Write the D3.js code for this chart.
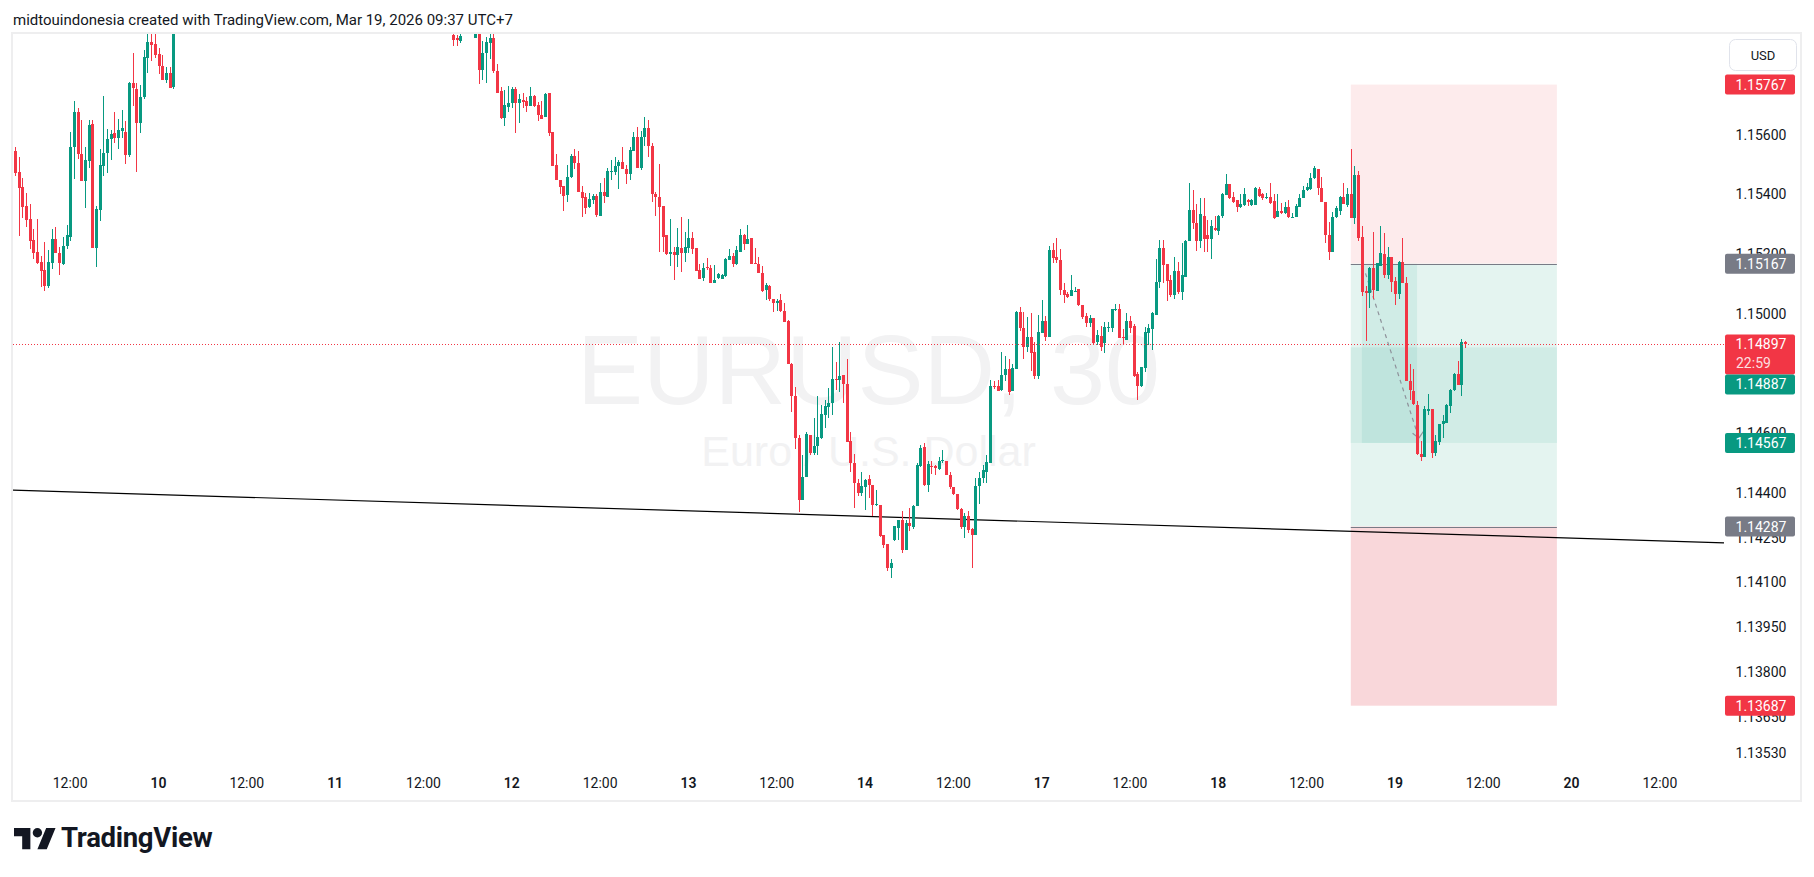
<!DOCTYPE html>
<html><head><meta charset="utf-8">
<script src="https://cdn.jsdelivr.net/npm/d3@7"></script>
<style>
html,body{margin:0;padding:0;background:#fff;overflow:hidden;}
svg{display:block;}
</style></head><body>
<svg id="chart" width="1814" height="877"></svg>
<script>
// ---------------- DATA (EURUSD, 30 min) ----------------
// candle index 0 = Mar 10 00:00 (UTC+7); null = candle above the visible price range
const START_INDEX = -39;
const opens = [
1.15543,1.15473,1.15423,1.15360,1.15316,1.15246,1.15206,1.15174,1.15146,1.15094,
1.15170,1.15249,1.15204,1.15166,1.15225,1.15257,1.15557,1.15674,1.15536,1.15444,
1.15510,1.15636,1.15220,1.15346,1.15494,1.15537,1.15584,1.15606,1.15587,1.15610,
1.15607,1.15530,1.15774,1.15753,1.15640,1.15726,1.15857,1.15909,1.15903,1.15869,
1.15829,1.15782,1.15806,1.15760,
null,null,null,null,null,null,null,null,null,null,null,null,null,null,null,
null,null,null,null,null,null,null,null,null,null,null,null,null,null,null,
null,null,null,null,null,null,null,null,null,null,null,null,null,null,null,
null,null,null,null,null,null,null,null,null,null,null,null,null,null,null,
null,null,null,null,null,null,null,null,null,null,null,null,null,null,null,
1.15933,1.15924,1.15913,null,null,null,
1.15924,1.15950,1.15817,1.15873,1.15906,1.15924,1.15813,1.15746,1.15656,1.15693,
1.15704,1.15753,1.15706,1.15715,1.15713,1.15694,1.15729,1.15699,1.15666,1.15659,
1.15739,1.15609,1.15499,1.15449,1.15426,1.15397,1.15456,1.15529,1.15506,1.15409,
1.15389,1.15356,1.15379,1.15393,1.15326,1.15406,1.15389,1.15476,1.15473,1.15493,
1.15509,1.15486,1.15469,1.15546,1.15593,1.15489,1.15590,1.15620,1.15560,1.15401,
1.15392,1.15362,1.15262,1.15201,1.15206,1.15195,1.15219,1.15203,1.15219,1.15254,
1.15219,1.15146,1.15118,1.15155,1.15153,1.15103,1.15119,1.15117,1.15126,1.15178,
1.15192,1.15167,1.15208,1.15265,1.15232,1.15253,1.15169,1.15167,1.15136,1.15078,
1.15093,1.15048,1.15034,1.15045,1.15010,1.14975,1.14831,1.14723,1.14582,1.14376,
1.14453,1.14592,1.14534,1.14556,1.14584,1.14662,1.14686,1.14701,1.14782,1.14777,
1.14793,1.14763,1.14573,1.14501,1.14434,1.14399,1.14421,1.14446,1.14427,1.14359,
1.14360,1.14257,1.14227,1.14147,1.14241,1.14282,1.14310,1.14210,1.14299,1.14284,
1.14357,1.14490,1.14552,1.14427,1.14490,1.14490,1.14481,1.14507,1.14508,1.14460,
1.14421,1.14397,1.14346,1.14284,1.14321,1.14279,1.14260,1.14423,1.14450,1.14471,
1.14501,1.14758,1.14758,1.14743,1.14796,1.14813,1.14740,1.14816,1.15004,1.14952,
1.14888,1.14923,1.14870,1.14790,1.14936,1.14975,1.14923,1.15212,1.15189,1.15181,
1.15078,1.15065,1.15059,1.15073,1.15082,1.15028,1.14993,1.14967,1.14987,1.14905,
1.14925,1.14903,1.14953,1.14953,1.15012,1.15014,1.14922,1.14912,1.14975,1.14959,
1.14798,1.14756,1.14818,1.14936,1.14948,1.14996,1.15105,1.15221,1.15165,1.15112,
1.15062,1.15142,1.15073,1.15123,1.15243,1.15348,1.15304,1.15243,1.15328,1.15265,
1.15249,1.15287,1.15276,1.15328,1.15396,1.15433,1.15392,1.15381,1.15356,1.15364,
1.15381,1.15365,1.15365,1.15419,1.15401,1.15388,1.15392,1.15378,1.15323,1.15345,
1.15337,1.15358,1.15323,1.15325,1.15358,1.15386,1.15414,1.15417,1.15454,1.15484,
1.15421,1.15373,1.15265,1.15206,1.15323,1.15345,1.15390,1.15363,1.15399,1.15320,
1.15465,1.15256,1.15076,1.15070,1.15153,1.15076,1.15159,1.15200,1.15129,1.15189,
1.15109,1.15066,1.15172,1.15101,1.14775,1.14742,1.14695,1.14529,1.14520,1.14673,
1.14679,1.14532,1.14570,1.14630,1.14634,1.14690,1.14743,1.14799,1.14762,1.14904
];
const highs = [
1.15559,1.15526,1.15453,1.15403,1.15367,1.15283,1.15316,1.15193,1.15239,1.15213,
1.15283,1.15289,1.15223,1.15257,1.15296,1.15607,1.15713,1.15689,1.15650,1.15559,
1.15649,1.15649,1.15359,1.15553,1.15730,1.15617,1.15616,1.15676,1.15652,1.15683,
1.15646,1.15776,1.15873,1.15774,1.15764,1.15884,1.15960,1.15955,1.15950,1.15890,
1.15866,1.15826,1.15826,1.15990,
null,null,null,null,null,null,null,null,null,null,null,null,null,null,null,
null,null,null,null,null,null,null,null,null,null,null,null,null,null,null,
null,null,null,null,null,null,null,null,null,null,null,null,null,null,null,
null,null,null,null,null,null,null,null,null,null,null,null,null,null,null,
null,null,null,null,null,null,null,null,null,null,null,null,null,null,null,
1.15945,1.15933,1.15950,null,null,null,
1.15955,1.15965,1.15913,1.15926,1.15940,1.15940,1.15836,1.15759,1.15748,1.15763,
1.15759,1.15759,1.15736,1.15739,1.15727,1.15759,1.15733,1.15710,1.15713,1.15740,
1.15739,1.15609,1.15536,1.15449,1.15429,1.15499,1.15536,1.15553,1.15543,1.15426,
1.15403,1.15403,1.15399,1.15399,1.15436,1.15453,1.15489,1.15513,1.15526,1.15513,
1.15559,1.15499,1.15559,1.15609,1.15626,1.15610,1.15660,1.15650,1.15570,1.15408,
1.15501,1.15362,1.15262,1.15317,1.15223,1.15287,1.15325,1.15273,1.15317,1.15273,
1.15219,1.15167,1.15171,1.15186,1.15164,1.15162,1.15137,1.15134,1.15187,1.15216,
1.15203,1.15228,1.15284,1.15267,1.15298,1.15253,1.15221,1.15189,1.15158,1.15103,
1.15095,1.15048,1.15048,1.15067,1.15037,1.14978,1.14834,1.14753,1.14595,1.14525,
1.14603,1.14592,1.14651,1.14725,1.14693,1.14712,1.14751,1.14888,1.14838,1.14904,
1.14793,1.14849,1.14604,1.14529,1.14446,1.14471,1.14446,1.14460,1.14427,1.14410,
1.14360,1.14257,1.14227,1.14177,1.14290,1.14310,1.14340,1.14310,1.14349,1.14360,
1.14499,1.14560,1.14568,1.14508,1.14508,1.14493,1.14519,1.14543,1.14508,1.14468,
1.14421,1.14397,1.14349,1.14332,1.14338,1.14281,1.14449,1.14468,1.14493,1.14527,
1.14779,1.14773,1.14779,1.14873,1.14857,1.14848,1.14832,1.15010,1.15023,1.15004,
1.14990,1.15003,1.14904,1.14995,1.15045,1.14993,1.15225,1.15237,1.15252,1.15215,
1.15104,1.15073,1.15131,1.15088,1.15082,1.15028,1.15001,1.14995,1.14987,1.14945,
1.14958,1.14972,1.14972,1.15015,1.15031,1.15031,1.14947,1.15001,1.14993,1.14965,
1.14806,1.14822,1.14956,1.14965,1.15005,1.15184,1.15247,1.15245,1.15165,1.15131,
1.15188,1.15173,1.15236,1.15247,1.15436,1.15415,1.15367,1.15386,1.15388,1.15314,
1.15314,1.15328,1.15331,1.15404,1.15468,1.15433,1.15409,1.15381,1.15401,1.15422,
1.15384,1.15384,1.15423,1.15425,1.15404,1.15404,1.15438,1.15401,1.15401,1.15372,
1.15373,1.15381,1.15337,1.15367,1.15401,1.15426,1.15438,1.15472,1.15493,1.15486,
1.15456,1.15373,1.15306,1.15342,1.15360,1.15395,1.15439,1.15421,1.15552,1.15495,
1.15479,1.15292,1.15092,1.15156,1.15274,1.15170,1.15295,1.15269,1.15222,1.15189,
1.15122,1.15176,1.15253,1.15121,1.14832,1.14815,1.14709,1.14573,1.14692,1.14732,
1.14679,1.14592,1.14632,1.14662,1.14698,1.14748,1.14801,1.14842,1.14914,1.14909
];
const lows = [
1.15460,1.15260,1.15320,1.15290,1.15217,1.15184,1.15165,1.15090,1.15077,1.15087,
1.15148,1.15202,1.15129,1.15163,1.15215,1.15244,1.15450,1.15517,1.15444,1.15354,
1.15487,1.15220,1.15157,1.15310,1.15460,1.15470,1.15513,1.15573,1.15550,1.15587,
1.15500,1.15524,1.15697,1.15474,1.15605,1.15719,1.15806,1.15846,1.15857,1.15804,
1.15782,1.15773,1.15757,1.15751,
null,null,null,null,null,null,null,null,null,null,null,null,null,null,null,
null,null,null,null,null,null,null,null,null,null,null,null,null,null,null,
null,null,null,null,null,null,null,null,null,null,null,null,null,null,null,
null,null,null,null,null,null,null,null,null,null,null,null,null,null,null,
null,null,null,null,null,null,null,null,null,null,null,null,null,null,null,
1.15897,1.15897,1.15907,null,null,null,
1.15922,1.15770,1.15784,1.15774,1.15853,1.15806,1.15740,1.15653,1.15629,1.15676,
1.15687,1.15606,1.15639,1.15689,1.15676,1.15694,1.15693,1.15646,1.15653,1.15659,
1.15596,1.15496,1.15449,1.15400,1.15343,1.15373,1.15453,1.15486,1.15406,1.15323,
1.15333,1.15353,1.15366,1.15323,1.15326,1.15369,1.15389,1.15446,1.15463,1.15416,
1.15483,1.15433,1.15446,1.15546,1.15489,1.15480,1.15560,1.15525,1.15373,1.15327,
1.15206,1.15206,1.15198,1.15158,1.15114,1.15156,1.15138,1.15173,1.15203,1.15201,
1.15143,1.15117,1.15108,1.15145,1.15103,1.15103,1.15117,1.15115,1.15123,1.15178,
1.15156,1.15162,1.15206,1.15212,1.15232,1.15167,1.15165,1.15136,1.15073,1.15047,
1.15043,1.15004,1.15008,1.15004,1.14971,1.14831,1.14669,1.14547,1.14336,1.14376,
1.14453,1.14526,1.14528,1.14526,1.14581,1.14617,1.14649,1.14660,1.14743,1.14738,
1.14702,1.14571,1.14471,1.14349,1.14388,1.14390,1.14343,1.14382,1.14321,1.14357,
1.14252,1.14216,1.14138,1.14116,1.14238,1.14243,1.14197,1.14208,1.14271,1.14279,
1.14357,1.14488,1.14423,1.14401,1.14463,1.14460,1.14477,1.14499,1.14458,1.14412,
1.14393,1.14343,1.14279,1.14248,1.14266,1.14149,1.14260,1.14363,1.14432,1.14434,
1.14499,1.14749,1.14741,1.14740,1.14774,1.14727,1.14740,1.14816,1.14943,1.14849,
1.14871,1.14808,1.14782,1.14780,1.14936,1.14909,1.14923,1.15171,1.15171,1.15062,
1.15036,1.15051,1.15059,1.15073,1.15026,1.14983,1.14954,1.14956,1.14898,1.14895,
1.14875,1.14869,1.14939,1.14939,1.15009,1.14917,1.14898,1.14912,1.14934,1.14787,
1.14712,1.14754,1.14803,1.14895,1.14878,1.14996,1.15086,1.15103,1.15043,1.15055,
1.15049,1.15065,1.15045,1.15123,1.15243,1.15282,1.15209,1.15219,1.15206,1.15206,
1.15183,1.15276,1.15265,1.15319,1.15396,1.15384,1.15371,1.15339,1.15354,1.15362,
1.15359,1.15362,1.15365,1.15392,1.15382,1.15384,1.15367,1.15317,1.15323,1.15334,
1.15334,1.15321,1.15323,1.15325,1.15358,1.15386,1.15412,1.15414,1.15451,1.15397,
1.15373,1.15236,1.15181,1.15206,1.15320,1.15329,1.15368,1.15356,1.15320,1.15299,
1.15243,1.15059,1.14910,1.15020,1.15048,1.15076,1.15159,1.15120,1.15115,1.15073,
1.15029,1.15049,1.15101,1.14773,1.14710,1.14695,1.14525,1.14506,1.14520,1.14659,
1.14516,1.14523,1.14559,1.14583,1.14634,1.14668,1.14740,1.14762,1.14723,1.14884
];
const closes = [
1.15470,1.15421,1.15357,1.15315,1.15244,1.15204,1.15170,1.15144,1.15094,1.15173,
1.15249,1.15202,1.15168,1.15226,1.15263,1.15557,1.15674,1.15533,1.15444,1.15513,
1.15633,1.15220,1.15349,1.15497,1.15539,1.15586,1.15603,1.15589,1.15614,1.15620,
1.15530,1.15774,1.15754,1.15640,1.15726,1.15859,1.15909,1.15900,1.15867,1.15828,
1.15782,1.15806,1.15757,1.15960,
null,null,null,null,null,null,null,null,null,null,null,null,null,null,null,
null,null,null,null,null,null,null,null,null,null,null,null,null,null,null,
null,null,null,null,null,null,null,null,null,null,null,null,null,null,null,
null,null,null,null,null,null,null,null,null,null,null,null,null,null,null,
null,null,null,null,null,null,null,null,null,null,null,null,null,null,null,
1.15917,1.15915,1.15930,null,null,null,
1.15940,1.15817,1.15873,1.15909,1.15924,1.15813,1.15740,1.15656,1.15699,1.15706,
1.15753,1.15706,1.15719,1.15710,1.15694,1.15729,1.15696,1.15664,1.15653,1.15737,
1.15606,1.15496,1.15449,1.15424,1.15394,1.15456,1.15529,1.15503,1.15406,1.15387,
1.15353,1.15383,1.15393,1.15329,1.15409,1.15393,1.15476,1.15479,1.15496,1.15509,
1.15483,1.15469,1.15549,1.15593,1.15489,1.15590,1.15620,1.15560,1.15401,1.15389,
1.15358,1.15258,1.15201,1.15206,1.15198,1.15223,1.15203,1.15223,1.15254,1.15217,
1.15143,1.15117,1.15154,1.15153,1.15103,1.15112,1.15132,1.15128,1.15182,1.15192,
1.15167,1.15212,1.15265,1.15232,1.15251,1.15167,1.15165,1.15136,1.15075,1.15095,
1.15048,1.15034,1.15042,1.15008,1.14973,1.14831,1.14723,1.14582,1.14376,1.14453,
1.14597,1.14534,1.14558,1.14587,1.14665,1.14689,1.14701,1.14780,1.14777,1.14790,
1.14766,1.14571,1.14499,1.14432,1.14399,1.14423,1.14443,1.14427,1.14360,1.14362,
1.14254,1.14224,1.14147,1.14166,1.14288,1.14308,1.14210,1.14299,1.14288,1.14357,
1.14493,1.14549,1.14427,1.14496,1.14486,1.14482,1.14507,1.14510,1.14458,1.14419,
1.14396,1.14347,1.14284,1.14321,1.14277,1.14260,1.14423,1.14450,1.14477,1.14503,
1.14757,1.14754,1.14741,1.14796,1.14813,1.14738,1.14818,1.15004,1.14951,1.14888,
1.14923,1.14868,1.14790,1.14938,1.14975,1.14923,1.15212,1.15186,1.15178,1.15078,
1.15062,1.15056,1.15078,1.15077,1.15028,1.14989,1.14967,1.14986,1.14901,1.14928,
1.14889,1.14956,1.14956,1.15014,1.15015,1.14919,1.14919,1.14975,1.14953,1.14792,
1.14756,1.14822,1.14937,1.14951,1.15001,1.15105,1.15221,1.15162,1.15108,1.15062,
1.15142,1.15073,1.15128,1.15243,1.15348,1.15303,1.15243,1.15332,1.15249,1.15249,
1.15292,1.15281,1.15328,1.15399,1.15433,1.15386,1.15375,1.15356,1.15366,1.15399,
1.15375,1.15381,1.15422,1.15395,1.15386,1.15392,1.15371,1.15321,1.15345,1.15336,
1.15358,1.15323,1.15325,1.15362,1.15386,1.15415,1.15423,1.15454,1.15489,1.15421,
1.15373,1.15262,1.15206,1.15325,1.15354,1.15390,1.15368,1.15399,1.15320,1.15465,
1.15253,1.15073,1.15070,1.15153,1.15079,1.15170,1.15203,1.15129,1.15189,1.15106,
1.15066,1.15173,1.15101,1.14773,1.14743,1.14698,1.14529,1.14520,1.14679,1.14682,
1.14532,1.14573,1.14632,1.14640,1.14695,1.14745,1.14799,1.14762,1.14904,1.14897
];

// price-scale tick labels as shown (some are partly covered by the tag labels)
const priceTicks = [1.15600,1.15400,1.15200,1.15000,1.14600,1.14400,1.14250,1.14100,1.13950,1.13800,1.13650,1.13530];
const timeTickIndex = [-24,0,24,48,72,96,120,144,168,192,216,240,264,288,312,336,360,384,408];
const timeTickLabels = ["12:00","10","12:00","11","12:00","12","12:00","13","12:00","14","12:00","17","12:00","18","12:00","19","12:00","20","12:00"];

// trend line anchors (candle index, price)
const trendIndex = [-39, 424];
const trendPrice = [1.14409, 1.14233];

// position tool
const positionIndex = [324, 380];
const positionActiveIndex = [327, 342];
const zoneFrom = [1.15767, 1.15167, 1.14287, 1.14887];
const zoneTo   = [1.15167, 1.14287, 1.13687, 1.14567];
const zoneKind = ["stop", "target", "stop2", "band"];
const positionLines = [1.15167, 1.14287];
const activeFrom = 1.15167, activeTo = 1.14567;
const pathIndex = [328, 342.5];
const pathPrice = [1.15135, 1.14583];

// price-scale labels
const axisLabelValues = [1.15767, 1.15167, 1.14897, 1.14887, 1.14567, 1.14287, 1.13687];
const axisLabelKinds  = ["red", "gray", "last", "green", "green", "gray", "red"];
const lastPrice = 1.14897;
const countdown = "22:59";

const headerText = "midtouindonesia created with TradingView.com, Mar 19, 2026 09:37 UTC+7";
const symbolText = "EURUSD, 30";
const descText = "Euro / U.S. Dollar";

// ---------------- DRAW ----------------
const UP = "#089981", DOWN = "#f23645", GRAY = "#787b86", TXT = "#131722";
const FONT = "Roboto, 'Liberation Sans', Arial, sans-serif";
const pane = {left: 13, top: 34, right: 1724, bottom: 768};

const svg = d3.select("#chart");
const x = d3.scaleLinear().domain([0, 384]).range([158.5, 1571.6]);
const y = d3.scaleLinear().domain([1.15767, 1.13687]).range([84.6, 705.7]);

svg.append("rect").attr("width", 1814).attr("height", 877).attr("fill", "#fff");

svg.append("defs").append("clipPath").attr("id", "paneClip")
  .append("rect").attr("x", pane.left).attr("y", pane.top)
  .attr("width", pane.right - pane.left).attr("height", pane.bottom - pane.top);

const g = svg.append("g").attr("clip-path", "url(#paneClip)");

// watermark
const cx = (577 + 1160) / 2;
g.append("text").attr("x", cx).attr("y", 404).attr("text-anchor", "middle")
  .attr("font-family", "'Liberation Sans', Arial, sans-serif").attr("font-size", 99)
  .attr("fill", "#f2f2f3").text(symbolText);
g.append("text").attr("x", cx).attr("y", 466).attr("text-anchor", "middle")
  .attr("font-family", "'Liberation Sans', Arial, sans-serif").attr("font-size", 43)
  .attr("fill", "#f2f2f3").text(descText);

// position zones
const zoneFill = {stop: "#fdebec", target: "#e4f4f0", stop2: "#f9d7da", band: "#d1ece6"};
const px0 = x(positionIndex[0]), px1 = x(positionIndex[1]);
g.selectAll("rect.zone").data(zoneFrom.map((f, i) => ({f, t: zoneTo[i], k: zoneKind[i]})))
  .join("rect").attr("class", "zone")
  .attr("x", px0).attr("width", px1 - px0)
  .attr("y", d => y(d.f)).attr("height", d => y(d.t) - y(d.f))
  .attr("fill", d => zoneFill[d.k]);
g.append("rect").attr("x", x(positionActiveIndex[0])).attr("width", x(positionActiveIndex[1]) - x(positionActiveIndex[0]))
  .attr("y", y(activeFrom)).attr("height", y(activeTo) - y(activeFrom))
  .attr("fill", "rgba(8,153,129,0.09)");
g.selectAll("line.pline").data(positionLines).join("line").attr("class", "pline")
  .attr("x1", px0).attr("x2", px1).attr("y1", d => Math.round(y(d)) + 0.5).attr("y2", d => Math.round(y(d)) + 0.5)
  .attr("stroke", GRAY).attr("stroke-width", 1);

// dashed path with arrow
const ax1 = x(pathIndex[0]), ay1 = y(pathPrice[0]), ax2 = x(pathIndex[1]), ay2 = y(pathPrice[1]);
g.append("line").attr("x1", ax1).attr("y1", ay1).attr("x2", ax2).attr("y2", ay2)
  .attr("stroke", "#8f929b").attr("stroke-width", 1.2).attr("stroke-dasharray", "4,4");
{
  const ang = Math.atan2(ay1 - ay2, ax1 - ax2);
  [0.9, -0.6].forEach(da => {
    g.append("line").attr("x1", ax2).attr("y1", ay2)
      .attr("x2", ax2 + 8 * Math.cos(ang + da)).attr("y2", ay2 + 8 * Math.sin(ang + da))
      .attr("stroke", "#8f929b").attr("stroke-width", 1.2);
  });
}

// trend line extended to pane edges
{
  const xa = x(trendIndex[0]), ya = y(trendPrice[0]), xb = x(trendIndex[1]), yb = y(trendPrice[1]);
  const s = (yb - ya) / (xb - xa);
  g.append("line").attr("x1", pane.left).attr("y1", ya + s * (pane.left - xa))
    .attr("x2", pane.right).attr("y2", ya + s * (pane.right - xa))
    .attr("stroke", "#000").attr("stroke-width", 1.2);
}

// candles
const candles = [];
for (let k = 0; k < opens.length; k++) {
  if (opens[k] == null) continue;
  candles.push({t: START_INDEX + k, o: opens[k], h: highs[k], l: lows[k], c: closes[k]});
}
const cg = g.append("g").attr("shape-rendering", "crispEdges");
cg.selectAll("rect.wick").data(candles).join("rect").attr("class", "wick")
  .attr("x", d => Math.round(x(d.t)))
  .attr("width", 1)
  .attr("y", d => Math.round(y(d.h)))
  .attr("height", d => Math.max(1, Math.round(y(d.l)) - Math.round(y(d.h))))
  .attr("fill", d => d.c >= d.o ? UP : DOWN);
cg.selectAll("rect.body").data(candles).join("rect").attr("class", "body")
  .attr("x", d => Math.round(x(d.t)) - 1)
  .attr("width", 3)
  .attr("y", d => Math.round(y(Math.max(d.o, d.c))))
  .attr("height", d => Math.max(1, Math.round(y(Math.min(d.o, d.c))) - Math.round(y(Math.max(d.o, d.c)))))
  .attr("fill", d => d.c >= d.o ? UP : DOWN);

// last price dotted line
g.append("line").attr("x1", pane.left).attr("x2", pane.right)
  .attr("y1", Math.round(y(lastPrice)) + 0.5).attr("y2", Math.round(y(lastPrice)) + 0.5)
  .attr("stroke", DOWN).attr("stroke-width", 1).attr("stroke-dasharray", "1,2");

// frame
svg.append("rect").attr("x", 12).attr("y", 33).attr("width", 1789).attr("height", 768)
  .attr("fill", "none").attr("stroke", "#eeeeef").attr("stroke-width", 2);

// price axis ticks
const fmt = d3.format(".5f");
const axisX = 1761;
svg.append("g").selectAll("text").data(priceTicks).join("text")
  .attr("x", axisX).attr("y", d => y(d)).attr("dy", "0.36em")
  .attr("text-anchor", "middle").attr("font-family", FONT).attr("font-size", 14)
  .attr("fill", TXT).text(d => fmt(d));

// USD button
svg.append("rect").attr("x", 1729.5).attr("y", 39.5).attr("width", 67).attr("height", 31).attr("rx", 6)
  .attr("fill", "#fff").attr("stroke", "#e0e3eb");
svg.append("text").attr("x", 1763).attr("y", 55).attr("dy", "0.36em").attr("text-anchor", "middle")
  .attr("font-family", FONT).attr("font-size", 13).attr("fill", TXT).text("USD");

// price labels
const labelBg = {red: DOWN, gray: GRAY, last: DOWN, green: UP};
const lg = svg.append("g");
let lastBottom = -1;
axisLabelValues.forEach((v, i) => {
  const kind = axisLabelKinds[i];
  const h = kind === "last" ? 40 : 20;
  let top = y(v) - 10;
  if (top < lastBottom) top = lastBottom;
  lastBottom = top + h;
  lg.append("rect").attr("x", 1725).attr("y", top).attr("width", 70).attr("height", h).attr("rx", 2)
    .attr("fill", labelBg[kind]);
  lg.append("text").attr("x", axisX).attr("y", top + 10).attr("dy", "0.36em").attr("text-anchor", "middle")
    .attr("font-family", FONT).attr("font-size", 14).attr("fill", "#fff").text(fmt(v));
  if (kind === "last") {
    lg.append("text").attr("x", 1736).attr("y", top + 29).attr("dy", "0.36em").attr("text-anchor", "start")
      .attr("font-family", FONT).attr("font-size", 14).attr("fill", "rgba(255,255,255,0.85)").text(countdown);
  }
});

// time axis
svg.append("g").selectAll("text").data(timeTickIndex).join("text")
  .attr("x", d => x(d)).attr("y", 783).attr("dy", "0.36em").attr("text-anchor", "middle")
  .attr("font-family", FONT).attr("font-size", 14)
  .attr("font-weight", (d, i) => timeTickLabels[i] === "12:00" ? 400 : 600)
  .attr("fill", TXT).text((d, i) => timeTickLabels[i]);

// header
svg.append("text").attr("x", 13).attr("y", 25).attr("font-family", FONT).attr("font-size", 15)
  .attr("fill", TXT).text(headerText);

// TradingView logo
const logo = svg.append("g").attr("transform", "translate(14,823.4) scale(1.17)").attr("fill", TXT);
logo.append("path").attr("d", "M14 22H7V11H0V4h14v18zM28 22h-8l7.5-18h8L28 22z");
logo.append("circle").attr("cx", 20).attr("cy", 8).attr("r", 4);
svg.append("text").attr("x", 61).attr("y", 847).attr("font-family", FONT).attr("font-weight", 700)
  .attr("font-size", 27.5).attr("letter-spacing", -0.3).attr("fill", TXT).text("TradingView");
</script>
</body></html>
